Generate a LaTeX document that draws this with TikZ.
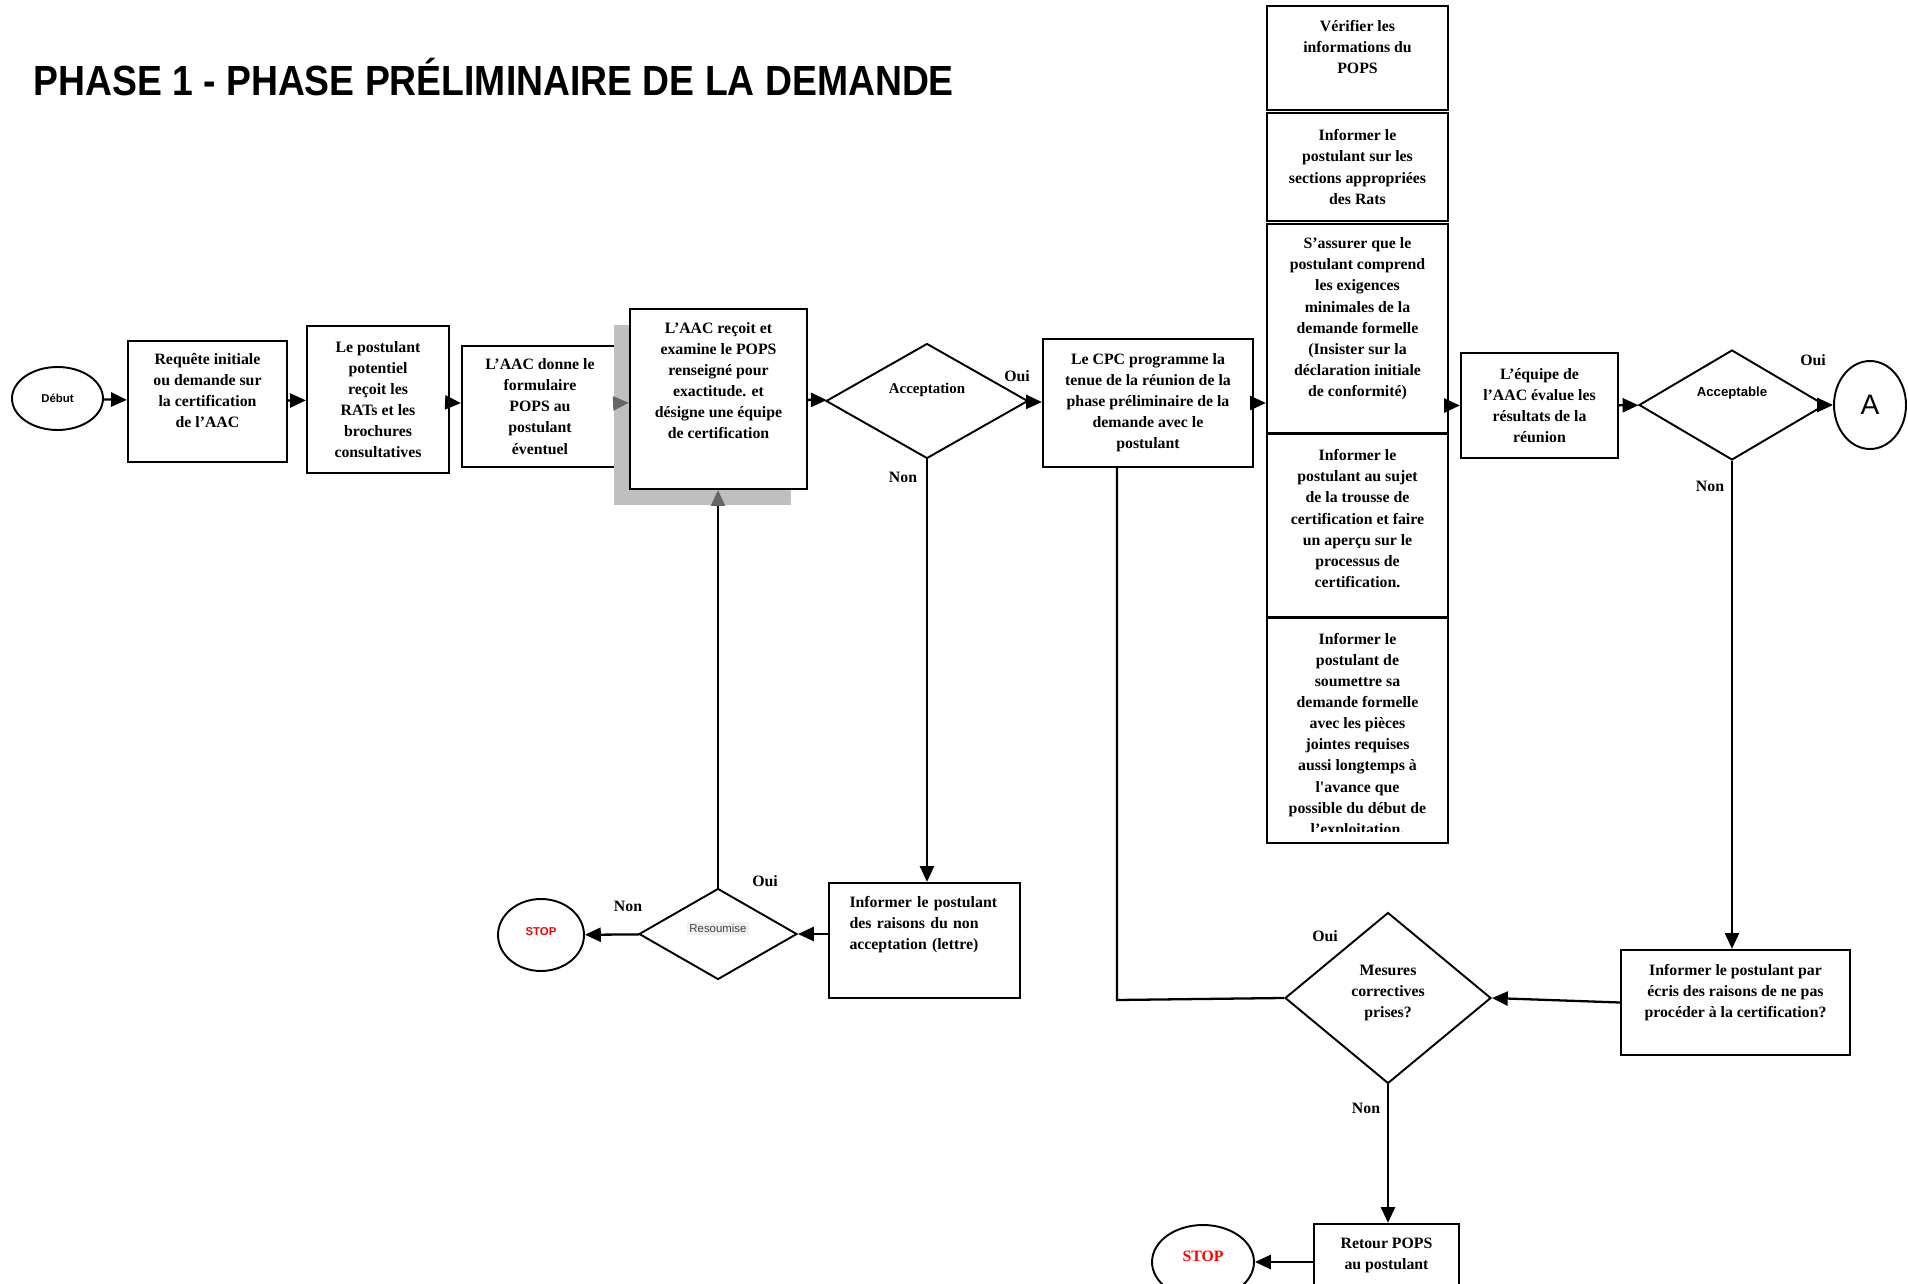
\documentclass[tikz,border=0pt]{standalone}
\usepackage{fontspec}
\setmainfont{Liberation Serif}
\newfontfamily\arialfont{Liberation Sans}
\newfontfamily\titlefont[FakeStretch=0.885]{Liberation Sans}
\usetikzlibrary{arrows.meta,shapes.geometric,shadows}
\setlength{\fboxsep}{1.5pt}

\tikzset{
  box/.style={draw, line width=1.3pt, fill=white, align=center, inner sep=2pt,
    font=\bfseries\fontsize{9}{12}\selectfont},
  decision/.style={draw, diamond, line width=1.1pt, inner sep=0pt, align=center,
    font=\bfseries\fontsize{9}{12}\selectfont},
  terminal/.style={draw, ellipse, line width=1.1pt, inner sep=0pt},
  flow/.style={line width=1.3pt, -{Triangle[length=9pt,width=8pt]}},
  answer/.style={font=\bfseries\fontsize{9}{11}\selectfont, inner sep=0pt},
}

\begin{document}
\begin{tikzpicture}[x=0.02cm, y=-0.02cm]
  \useasboundingbox (0,0) rectangle (1908,1284);

  % Title
  \node[anchor=base west, inner sep=0pt, font=\titlefont\bfseries\fontsize{24}{28}\selectfont] (title) at (33,96) {PHASE 1 - PHASE PRÉLIMINAIRE DE LA DEMANDE};

  % Main line
  \node[terminal, minimum width=1.82cm, minimum height=1.26cm, font=\arialfont\bfseries\fontsize{6.5}{8}\selectfont] (debut) at (57.5,398.5) {Début};
  \node[box, minimum width=3.18cm, minimum height=2.42cm, text depth=13pt] (requete) at (207.5,401.5) {Requête initiale\\ou demande sur\\la certification\\de l’AAC};
  \node[box, minimum width=2.84cm, minimum height=2.94cm] (recoit) at (378,399.5) {Le postulant\\potentiel\\reçoit les\\RATs et les\\brochures\\consultatives};
  \node[box, minimum width=3.12cm, minimum height=2.42cm] (donne) at (540,406.5) {L’AAC donne le\\formulaire\\POPS au\\postulant\\éventuel};
  \node[box, minimum width=3.54cm, minimum height=3.6cm, text depth=21pt, drop shadow={shadow xshift=-0.32cm, shadow yshift=-0.32cm, fill=gray!50, opacity=1}] (examine) at (718.5,399) {L’AAC reçoit et\\examine le POPS\\renseigné pour\\exactitude. et\\désigne une équipe\\de certification};
  \node[decision, minimum width=4.04cm, minimum height=2.3cm, text depth=15pt, font=\bfseries\fontsize{8.5}{10}\selectfont] (acceptation) at (927,401) {Acceptation};
  \node[box, minimum width=4.2cm, minimum height=2.56cm] (cpc) at (1148,403) {Le CPC programme la\\tenue de la réunion de la\\phase préliminaire de la\\demande avec le\\postulant};

  % Stack of meeting items
  \node[box, minimum width=3.62cm, minimum height=2.08cm, text depth=13pt] (verifier) at (1357.5,58) {Vérifier les\\informations du\\POPS};
  \node[box, minimum width=3.62cm, minimum height=2.16cm] (sections) at (1357.5,167) {Informer le\\postulant sur les\\sections appropriées\\des Rats};
  \node[box, minimum width=3.62cm, minimum height=4.18cm, text depth=13pt] (assurer) at (1357.5,328.5) {S’assurer que le\\postulant comprend\\les exigences\\minimales de la\\demande formelle\\(Insister sur la\\déclaration initiale\\de conformité)};
  \node[box, minimum width=3.62cm, minimum height=3.66cm, text depth=8pt] (trousse) at (1357.5,525.5) {Informer le\\postulant au sujet\\de la trousse de\\certification et faire\\un aperçu sur le\\processus de\\certification.};
  \node[box, minimum width=3.62cm, minimum height=4.5cm] (soumettre) at (1357.5,730.5) {};
  \begin{scope}
    \clip (1267,620) rectangle (1448,831);
    \node[anchor=north, align=center, inner sep=0pt, font=\bfseries\fontsize{9}{12}\selectfont] (soumettretexte) at (1357.5,633) {Informer le\\postulant de\\soumettre sa\\demande formelle\\avec les pièces\\jointes requises\\aussi longtemps à\\l\textquotesingle avance que\\possible du début de\\l’exploitation.};
  \end{scope}

  \node[box, minimum width=3.14cm, minimum height=2.1cm] (equipe) at (1539.5,405.5) {L’équipe de\\l’AAC évalue les\\résultats de la\\réunion};
  \node[decision, minimum width=3.72cm, minimum height=2.2cm, text depth=15pt, font=\arialfont\bfseries\fontsize{7.5}{9}\selectfont] (acceptable) at (1732,405) {Acceptable};
  \node[terminal, minimum width=1.44cm, minimum height=1.76cm, font=\arialfont\fontsize{16}{18}\selectfont] (connA) at (1870,405) {A};

  % Refusal branch
  \node[box, minimum width=3.82cm, minimum height=2.3cm, text width=3.0cm, align=left, text depth=44pt] (nonaccept) at (924.5,940.5) {Informer le postulant\\des raisons du non\\acceptation (lettre)};
  \node[decision, minimum width=3.16cm, minimum height=1.82cm, text depth=8pt, font=\arialfont\fontsize{6.5}{8}\selectfont] (resoumise) at (718,934) {\colorbox{gray!12}{\textcolor{black!75}{Resoumise}}};
  \node[terminal, minimum width=1.72cm, minimum height=1.44cm, text=red, text depth=4pt, font=\arialfont\bfseries\fontsize{6.5}{8}\selectfont] (stopA) at (541,935) {STOP};

  % Not acceptable branch
  \node[box, minimum width=4.58cm, minimum height=2.1cm, text depth=13pt] (ecris) at (1735.5,1002.5) {Informer le postulant par\\écris des raisons de ne pas\\procéder à la certification?};
  \node[decision, minimum width=4.12cm, minimum height=3.42cm, text depth=8pt] (mesures) at (1388,998) {Mesures\\correctives\\prises?};
  \node[box, minimum width=2.9cm, minimum height=1.72cm, text depth=15pt] (retour) at (1386.5,1267) {Retour POPS\\au postulant};
  \node[terminal, minimum width=2.04cm, minimum height=1.48cm, text=red, text depth=6pt, font=\bfseries\fontsize{9}{11}\selectfont] (stopB) at (1203,1262) {STOP};

  % Connectors
  \draw[flow] (debut) -- (requete);
  \draw[flow] (requete) -- (recoit);
  \draw[flow] (recoit) -- (donne);
  \draw[flow, black!60] (donne) -- (examine);
  \draw[flow] (examine) -- (acceptation);
  \draw[flow] (acceptation) -- (cpc);
  \draw[flow] (cpc.east) -- (cpc.east -| assurer.west);
  \draw[flow] (equipe.west -| assurer.east) -- (equipe.west);
  \draw[flow] (equipe) -- (acceptable);
  \draw[flow] (acceptable) -- (connA);
  \draw[flow] (acceptable.south) -- (acceptable.south |- ecris.north);
  \draw[flow] (ecris.west) -- (mesures.east);
  \coordinate (retourcpc) at (1117,1000);
  \draw[line width=1.3pt] (mesures.west) -- (retourcpc) -- (retourcpc |- cpc.south);
  \draw[flow] (mesures.south) -- (mesures.south |- retour.north);
  \draw[flow] (retour.west |- stopB.east) -- (stopB.east);
  \draw[flow] (acceptation.south) -- (acceptation.south |- nonaccept.north);
  \draw[flow] (nonaccept.west |- resoumise.east) -- (resoumise.east);
  \draw[flow] (resoumise) -- (stopA);
  \draw[line width=1.3pt, -{Triangle[length=9pt,width=8pt,color=black!60]}] (resoumise.north) -- (resoumise.north |- examine.south);

  % Answers
  \node[answer] (ouiA) at (1017,376) {Oui};
  \node[answer] (nonA) at (903,477) {Non};
  \node[answer] (ouiR) at (765,881) {Oui};
  \node[answer] (nonR) at (628,906) {Non};
  \node[answer] (ouiB) at (1813,360) {Oui};
  \node[answer] (nonB) at (1710,486) {Non};
  \node[answer] (ouiM) at (1325,936) {Oui};
  \node[answer] (nonM) at (1366,1108) {Non};

\end{tikzpicture}
\end{document}
